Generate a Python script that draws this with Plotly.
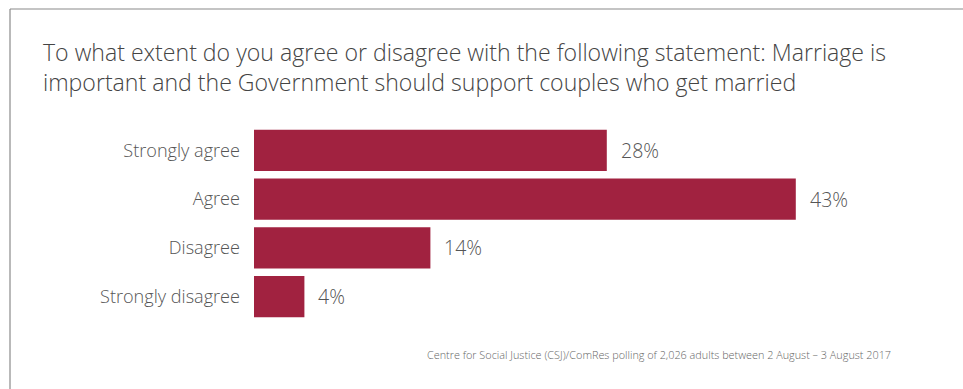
import plotly.graph_objects as go

categories = ["Strongly agree", "Agree", "Disagree", "Strongly disagree"]
values = [28, 43, 14, 4]
value_labels = ["28%", "43%", "14%", "4%"]
title_text = ("To what extent do you agree or disagree with the following statement: Marriage is<br>"
              "important and the Government should support couples who get married")
source_text = "Centre for Social Justice (CSJ)/ComRes polling of 2,026 adults between 2 August – 3 August 2017"

W, H = 963, 389
ML, MR, MT, MB = 254, 0, 126, 68
FONT = "Open Sans"
BAR = "#A12240"
TXT = "#555555"

pw = W - ML - MR
ph = H - MT - MB
px_per_unit = 12.6
xmax = pw / px_per_unit

def px_to_paper_x(px):
    return (px - ML) / pw

def px_to_paper_y(py):
    return (H - MB - py) / ph

fig = go.Figure()
fig.add_trace(go.Bar(
    y=categories, x=values, orientation="h",
    marker=dict(color=BAR, line=dict(width=0)),
    hoverinfo="skip",
))

annotations = []
for c, v, t in zip(categories, values, value_labels):
    annotations.append(dict(
        x=v, y=c, xref="x", yref="y", text=t, showarrow=False,
        xanchor="left", yanchor="middle", xshift=12,
        font=dict(family=FONT, size=19.5, color=TXT, weight=300),
    ))
annotations.append(dict(
    x=px_to_paper_x(41), y=px_to_paper_y(34), xref="paper", yref="paper",
    text=title_text, showarrow=False, xanchor="left", yanchor="top", align="left",
    font=dict(family=FONT, size=23.1, color="#444444", weight=300),
))
annotations.append(dict(
    x=px_to_paper_x(893), y=px_to_paper_y(354), xref="paper", yref="paper",
    text=source_text, showarrow=False, xanchor="right", yanchor="middle",
    font=dict(family=FONT, size=10.85, color="#666666", weight=300),
))

shapes = [
    dict(type="line", xref="paper", yref="paper",
         x0=px_to_paper_x(10), x1=px_to_paper_x(W + 5),
         y0=px_to_paper_y(9), y1=px_to_paper_y(9),
         line=dict(color="#8a8a8a", width=1.2)),
    dict(type="line", xref="paper", yref="paper",
         x0=px_to_paper_x(10), x1=px_to_paper_x(10),
         y0=px_to_paper_y(9), y1=px_to_paper_y(H + 5),
         line=dict(color="#8a8a8a", width=1.2)),
]

fig.update_layout(
    width=W, height=H,
    margin=dict(l=ML, r=MR, t=MT, b=MB, pad=0),
    paper_bgcolor="white", plot_bgcolor="white",
    showlegend=False,
    bargap=0.15,
    xaxis=dict(range=[0, xmax], visible=False, fixedrange=True),
    yaxis=dict(
        categoryorder="array", categoryarray=categories[::-1],
        showgrid=False, zeroline=False, showline=False, ticks="",
        ticklabelstandoff=13,
        tickfont=dict(family=FONT, size=18.1, color=TXT, weight=300),
        fixedrange=True,
    ),
    annotations=annotations,
    shapes=shapes,
)

fig.write_html("out.html")
